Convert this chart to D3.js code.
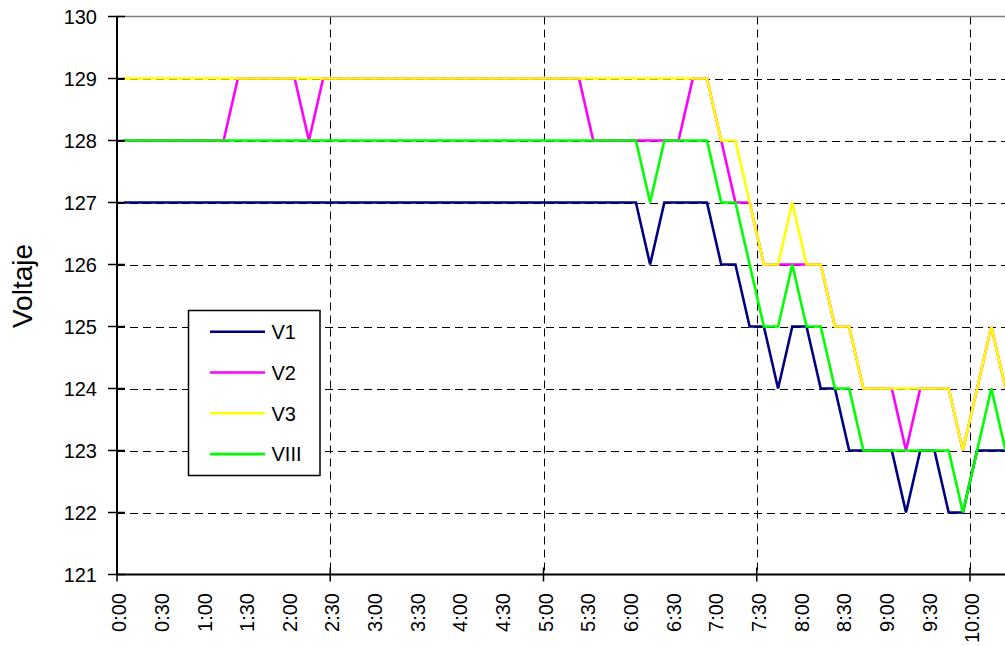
<!DOCTYPE html>
<html>
<head>
<meta charset="utf-8">
<script src="https://cdn.jsdelivr.net/npm/d3@7"></script>
<style>
  body { margin: 0; background: #fff; }
  svg { display: block; font-family: "Liberation Sans", Arial, sans-serif; }
</style>
</head>
<body>
<div id="chart"></div>
<script>
// sample times (every 10 minutes, from 0:05)
var times = [
  "0:05","0:15","0:25","0:35","0:45","0:55",
  "1:05","1:15","1:25","1:35","1:45","1:55",
  "2:05","2:15","2:25","2:35","2:45","2:55",
  "3:05","3:15","3:25","3:35","3:45","3:55",
  "4:05","4:15","4:25","4:35","4:45","4:55",
  "5:05","5:15","5:25","5:35","5:45","5:55",
  "6:05","6:15","6:25","6:35","6:45","6:55",
  "7:05","7:15","7:25","7:35","7:45","7:55",
  "8:05","8:15","8:25","8:35","8:45","8:55",
  "9:05","9:15","9:25","9:35","9:45","9:55",
  "10:05","10:15","10:25"
];

var v1 = [
  127,127,127,127,127,127,127,127,127,127,
  127,127,127,127,127,127,127,127,127,127,
  127,127,127,127,127,127,127,127,127,127,
  127,127,127,127,127,127,127,126,127,127,
  127,127,126,126,125,125,124,125,125,124,
  124,123,123,123,123,122,123,123,122,122,
  123,123,123
];
var v2 = [
  128,128,128,128,128,128,128,128,129,129,
  129,129,129,128,129,129,129,129,129,129,
  129,129,129,129,129,129,129,129,129,129,
  129,129,129,128,128,128,128,128,128,128,
  129,129,128,127,127,126,126,126,126,126,
  125,125,124,124,124,123,124,124,124,123,
  124,125,124
];
var v3 = [
  129,129,129,129,129,129,129,129,129,129,
  129,129,129,129,129,129,129,129,129,129,
  129,129,129,129,129,129,129,129,129,129,
  129,129,129,129,129,129,129,129,129,129,
  129,129,128,128,127,126,126,127,126,126,
  125,125,124,124,124,124,124,124,124,123,
  124,125,124
];
var viii = [
  128,128,128,128,128,128,128,128,128,128,
  128,128,128,128,128,128,128,128,128,128,
  128,128,128,128,128,128,128,128,128,128,
  128,128,128,128,128,128,128,127,128,128,
  128,128,127,127,126,125,125,126,125,125,
  124,124,123,123,123,123,123,123,123,122,
  123,124,123
];

var seriesNames = ["V1", "V2", "V3", "VIII"];
var seriesColors = ["#000080", "#ff00ff", "#ffff00", "#00ff00"];

var xTickLabels = [
  "0:00","0:30","1:00","1:30","2:00","2:30","3:00","3:30","4:00","4:30",
  "5:00","5:30","6:00","6:30","7:00","7:30","8:00","8:30","9:00","9:30","10:00"
];
var majorTicks = ["0:00","2:30","5:00","7:30","10:00"];
var yTicks = [121,122,123,124,125,126,127,128,129,130];

(function() {
    var width = 1005, height = 646;
    var plot = {left: 117, right: 1005, top: 16.5, bottom: 574.5};

    function minutes(s) {
        var p = s.split(":");
        return +p[0] * 60 + +p[1];
    }

    var x = d3.scaleLinear()
        .domain([0, 600])
        .range([plot.left, 970]);
    var y = d3.scaleLinear()
        .domain([121, 130])
        .range([plot.bottom, plot.top]);

    var svg = d3.select("#chart")
        .append("svg")
            .attr("width", width)
            .attr("height", height);

    svg.append("rect")
        .attr("width", width)
        .attr("height", height)
        .attr("fill", "#fff");

    svg.append("clipPath")
        .attr("id", "plot-clip")
        .append("rect")
            .attr("x", plot.left)
            .attr("y", 0)
            .attr("width", plot.right - plot.left)
            .attr("height", height);

    // gridlines
    var grid = svg.append("g").attr("class", "grid");
    grid.selectAll(".hgrid")
        .data(yTicks.filter(function(d) { return d > 121 && d < 130; }))
        .enter()
        .append("line")
            .attr("x1", plot.left)
            .attr("x2", plot.right)
            .attr("y1", function(d) { return Math.round(y(d)) + 0.5; })
            .attr("y2", function(d) { return Math.round(y(d)) + 0.5; })
            .attr("stroke", "#000")
            .attr("stroke-width", 1)
            .attr("stroke-dasharray", "8,5");

    grid.selectAll(".vgrid")
        .data(majorTicks.slice(1))
        .enter()
        .append("line")
            .attr("x1", function(d) { return Math.round(x(minutes(d))) + 0.5; })
            .attr("x2", function(d) { return Math.round(x(minutes(d))) + 0.5; })
            .attr("y1", plot.top)
            .attr("y2", plot.bottom)
            .attr("stroke", "#000")
            .attr("stroke-width", 1)
            .attr("stroke-dasharray", "8,5");

    // series lines
    var allSeries = [v1, v2, v3, viii];
    var line = d3.line()
        .x(function(d, i) { return x(minutes(times[i])); })
        .y(function(d) { return y(d); });

    var lines = svg.append("g")
        .attr("clip-path", "url(#plot-clip)");
    lines.selectAll("path")
        .data(allSeries)
        .enter()
        .append("path")
            .attr("d", line)
            .attr("fill", "none")
            .attr("stroke", function(d, i) { return seriesColors[i]; })
            .attr("stroke-width", 2.6)
            .attr("stroke-linejoin", "miter");

    // top border of plot area
    svg.append("line")
        .attr("x1", plot.left)
        .attr("x2", plot.right)
        .attr("y1", plot.top)
        .attr("y2", plot.top)
        .attr("stroke", "#808080")
        .attr("stroke-width", 1.5);

    // y axis
    var yAxis = svg.append("g").attr("class", "y-axis");
    yAxis.append("line")
        .attr("x1", plot.left)
        .attr("x2", plot.left)
        .attr("y1", plot.top)
        .attr("y2", plot.bottom)
        .attr("stroke", "#000")
        .attr("stroke-width", 2);
    yAxis.selectAll(".tick")
        .data(yTicks)
        .enter()
        .append("line")
            .attr("x1", plot.left - 9)
            .attr("x2", plot.left + 8)
            .attr("y1", function(d) { return y(d); })
            .attr("y2", function(d) { return y(d); })
            .attr("stroke", "#000")
            .attr("stroke-width", 1.5);
    yAxis.selectAll("text")
        .data(yTicks)
        .enter()
        .append("text")
            .attr("x", 97)
            .attr("y", function(d) { return y(d); })
            .attr("dy", "0.36em")
            .attr("text-anchor", "end")
            .style("font-size", "20px")
            .text(function(d) { return d; });

    svg.append("text")
        .attr("transform", "translate(31.5, 286) rotate(-90)")
        .attr("text-anchor", "middle")
        .style("font-size", "28px")
        .text("Voltaje");

    // x axis
    var xAxis = svg.append("g").attr("class", "x-axis");
    xAxis.append("line")
        .attr("x1", plot.left)
        .attr("x2", plot.right)
        .attr("y1", plot.bottom)
        .attr("y2", plot.bottom)
        .attr("stroke", "#000")
        .attr("stroke-width", 2);
    xAxis.selectAll(".tick")
        .data(majorTicks)
        .enter()
        .append("line")
            .attr("x1", function(d) { return x(minutes(d)); })
            .attr("x2", function(d) { return x(minutes(d)); })
            .attr("y1", plot.bottom - 7)
            .attr("y2", plot.bottom + 7)
            .attr("stroke", "#000")
            .attr("stroke-width", 1.5);
    xAxis.selectAll("text")
        .data(xTickLabels)
        .enter()
        .append("text")
            .attr("transform", function(d) {
                return "translate(" + (x(minutes(d)) + 2) + ", 593) rotate(-90)";
            })
            .attr("dy", "0.36em")
            .attr("text-anchor", "end")
            .style("font-size", "20px")
            .text(function(d) { return d; });

    // legend
    var legend = svg.append("g")
        .attr("class", "legend")
        .attr("transform", "translate(188.5, 310.5)");
    legend.append("rect")
        .attr("width", 131.5)
        .attr("height", 165)
        .attr("fill", "#fff")
        .attr("stroke", "#000")
        .attr("stroke-width", 1.5);
    var items = legend.selectAll(".item")
        .data(seriesNames)
        .enter()
        .append("g")
            .attr("class", "item")
            .attr("transform", function(d, i) {
                return "translate(0, " + (21.2 + i * 40.8) + ")";
            });
    items.append("line")
        .attr("x1", 21.5)
        .attr("x2", 76.5)
        .attr("stroke", function(d, i) { return seriesColors[i]; })
        .attr("stroke-width", 2.6);
    items.append("text")
        .attr("x", 83)
        .attr("dy", "0.36em")
        .style("font-size", "20px")
        .text(function(d) { return d; });
})()
</script>
</body>
</html>
